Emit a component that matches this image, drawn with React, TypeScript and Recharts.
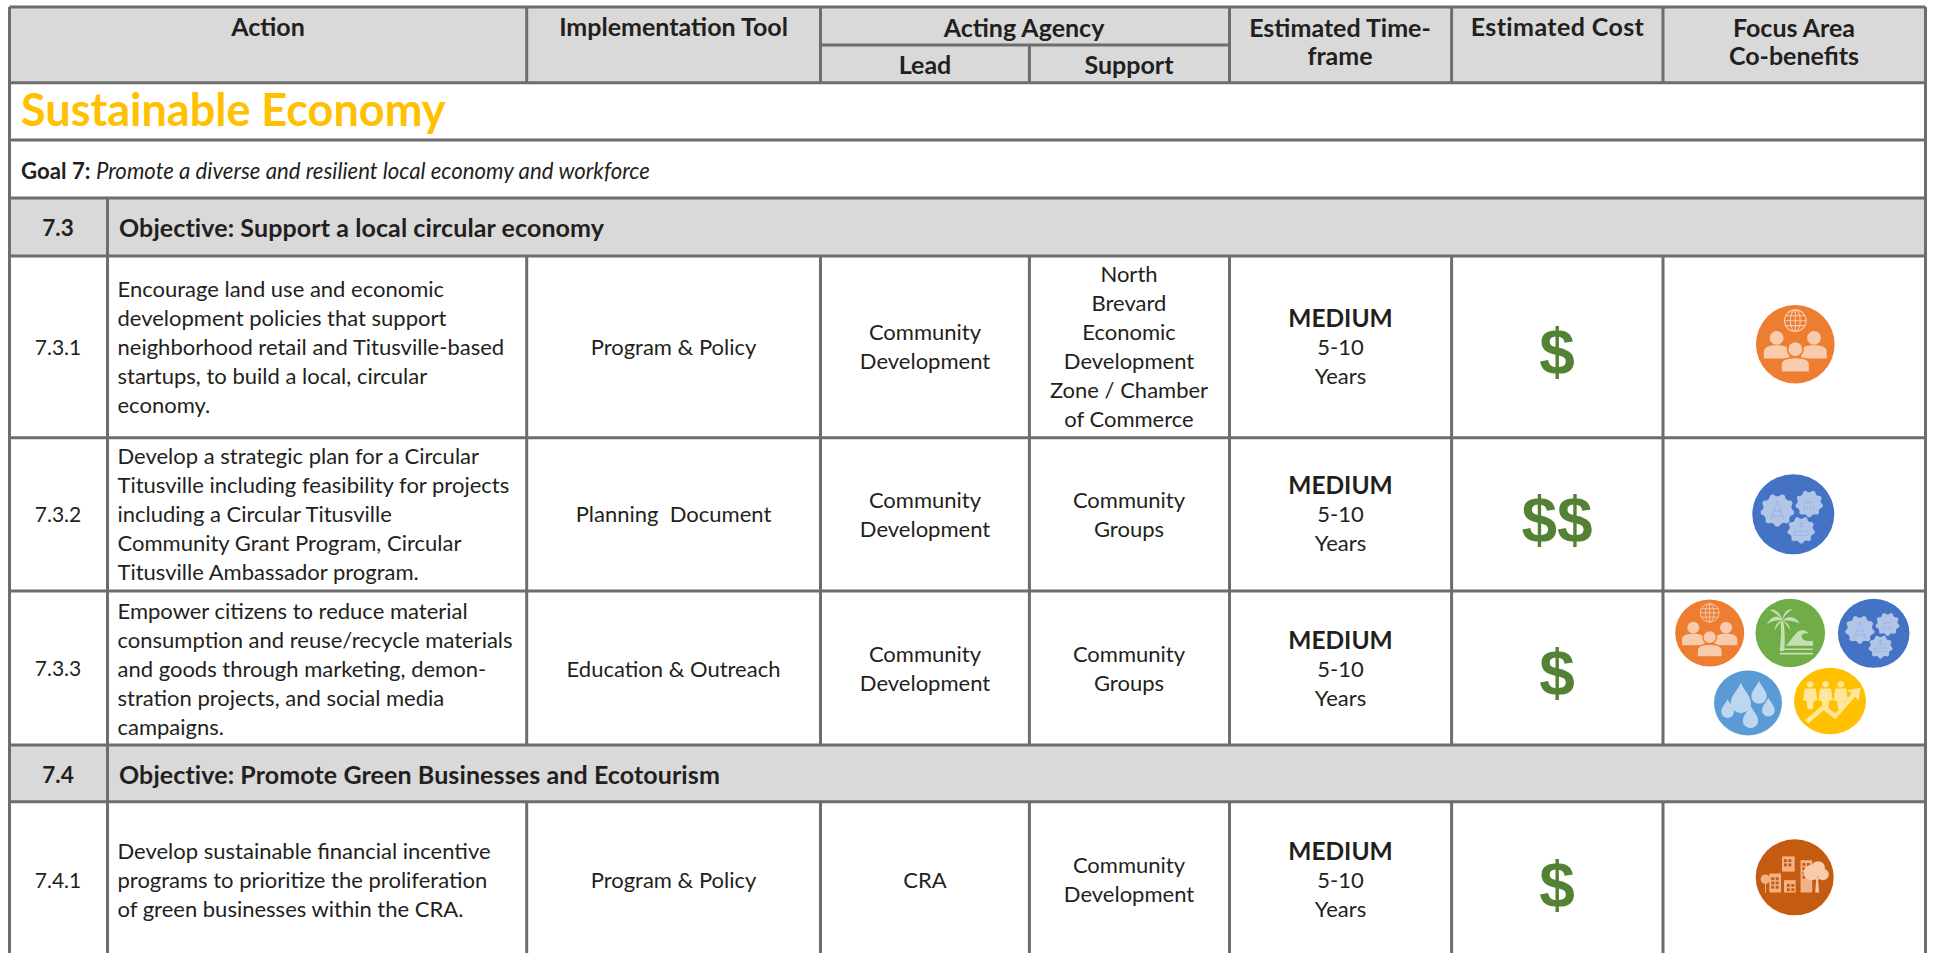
import React from "react";
import { ScatterChart, Scatter, XAxis, YAxis, ReferenceArea, ReferenceLine } from "recharts";

// ---------- data ----------
const headerTop = ["Action", "Implementation Tool", "Acting Agency", "Estimated Time-", "Estimated Cost", "Focus Area"];
const headerSub = ["Lead", "Support", "frame", "Co-benefits"];
const themeTitle = "Sustainable Economy";
const goalLabel = "Goal 7:";
const goalText = "Promote a diverse and resilient local economy and workforce";
const objectiveIds = ["7.3", "7.4"];
const objectiveTexts = ["Objective: Support a local circular economy", "Objective: Promote Green Businesses and Ecotourism"];
const actionIds = ["7.3.1", "7.3.2", "7.3.3", "7.4.1"];
const actionTexts = [
  ["Encourage land use and economic", "development policies that support", "neighborhood retail and Titusville-based", "startups, to build a local, circular", "economy."],
  ["Develop a strategic plan for a Circular", "Titusville including feasibility for projects", "including a Circular Titusville", "Community Grant Program, Circular", "Titusville Ambassador program."],
  ["Empower citizens to reduce material", "consumption and reuse/recycle materials", "and goods through marketing, demon-", "stration projects, and social media", "campaigns."],
  ["Develop sustainable financial incentive", "programs to prioritize the proliferation", "of green businesses within the CRA."],
];
const tools = ["Program & Policy", "Planning  Document", "Education & Outreach", "Program & Policy"];
const leads = [["Community", "Development"], ["Community", "Development"], ["Community", "Development"], ["CRA"]];
const supports = [
  ["North", "Brevard", "Economic", "Development", "Zone / Chamber", "of Commerce"],
  ["Community", "Groups"],
  ["Community", "Groups"],
  ["Community", "Development"],
];
const timeframes = [["5-10", "Years"], ["5-10", "Years"], ["5-10", "Years"], ["5-10", "Years"]];
const timeframeLevels = ["MEDIUM", "MEDIUM", "MEDIUM", "MEDIUM"];
const costs = ["$", "$$", "$", "$"];
const coBenefits = [["community"], ["infrastructure"], ["community", "coast", "infrastructure", "water", "growth"], ["built"]];

// ---------- layout (axis units) ----------
const W = 1933, H = 953;
const LEFT = 9.5, RIGHT = 1925.5, TOP = 7;
const colX = [107.5, 526.7, 820.5, 1029.4, 1229.5, 1451.6, 1663];
const rowTop = { headerMid: 45, header: 82.7, theme: 140, goal: 198, obj1: 256, r1: 437.7, r2: 591, r3: 745, obj2: 801.7 };
const rowCentre = [347.6, 515, 669.5, 880.6];
const LH = 29;
const colCentre = { tool: 673.5, lead: 925, support: 1129, time: 1340.5, cost: 1557, focus: 1794 };
const iconSlots = [
  [{ x: 1795.3, y: 344.3, rx: 39.3, ry: 39.3 }],
  [{ x: 1793.3, y: 514.3, rx: 41, ry: 40 }],
  [
    { x: 1709.7, y: 633, rx: 34.5, ry: 33.5 },
    { x: 1790.3, y: 633, rx: 34.8, ry: 34.2 },
    { x: 1873.7, y: 633.3, rx: 35.8, ry: 34.5 },
    { x: 1748, y: 703, rx: 34, ry: 32.5 },
    { x: 1830, y: 701, rx: 36, ry: 33.3 },
  ],
  [{ x: 1794.7, y: 877.3, rx: 39, ry: 38 }],
];

const FONT = "Lato, sans-serif";
const INK = "#231f20";
const GRID = "#6d6d6d";
const FILL = "#d9d9d9";

// ---------- derived marks ----------
const lines = (x: number, centre: number, ls: string[]) =>
  ls.map((text, i) => ({ x, y: centre + (i - (ls.length - 1) / 2) * LH, text }));

const idPts = actionIds.map((text, i) => ({ x: 58, y: rowCentre[i], text }));
const bodyPts = [
  ...tools.map((text, i) => ({ x: colCentre.tool, y: rowCentre[i], text })),
  ...leads.flatMap((l, i) => lines(colCentre.lead, rowCentre[i], l)),
  ...supports.flatMap((l, i) => lines(colCentre.support, rowCentre[i], l)),
  ...timeframes.flatMap((l, i) => l.map((text, j) => ({ x: colCentre.time, y: rowCentre[i] + j * LH, text }))),
];
const actionPts = actionTexts.flatMap((l, i) => lines(117.5, rowCentre[i], l));
const levelPts = timeframeLevels.map((text, i) => ({ x: colCentre.time, y: rowCentre[i] - LH, text }));
const headPts = [
  { x: 268, y: 27, text: headerTop[0] },
  { x: 673.5, y: 27, text: headerTop[1] },
  { x: 1024, y: 28, text: headerTop[2] },
  { x: 1340, y: 28, text: headerTop[3] },
  { x: 1794, y: 28, text: headerTop[5] },
  { x: 925, y: 65, text: headerSub[0] },
  { x: 1129, y: 65, text: headerSub[1] },
  { x: 1340, y: 56, text: headerSub[2] },
  { x: 1794, y: 56, text: headerSub[3] },
];
const costHeadPts = [{ x: 1557.5, y: 27, text: headerTop[4] }];
const objIdPts = objectiveIds.map((text, i) => ({ x: 58, y: [228, 775][i], text }));
const objTextPts = objectiveTexts.map((text, i) => ({ x: 119, y: [228, 775][i], text }));
const costPts = costs.map((text, i) => ({ x: colCentre.cost, y: [351, 519, 672, 883.5][i], text }));
const iconPts = coBenefits.flatMap((arr, i) => arr.map((icon, j) => ({ ...iconSlots[i][j], icon })));

// ---------- marks ----------
const textShape = (o: { size: number; weight?: number; anchor?: string; fill?: string; style?: string; family?: string; spacing?: number; dy?: string }) => (p: any) => (
  <text
    x={p.cx}
    y={p.cy}
    dy={o.dy || "0.36em"}
    fontFamily={o.family || FONT}
    fontSize={o.size}
    fontWeight={o.weight || 400}
    fontStyle={o.style || "normal"}
    textAnchor={o.anchor || "middle"}
    fill={o.fill || INK}
    letterSpacing={o.spacing || 0}
    xmlSpace="preserve"
  >
    {p.payload.text}
  </text>
);

const gearPath = (r: number) => {
  const n = 9;
  let d = "";
  for (let i = 0; i < n * 4; i++) {
    const rad = i % 4 < 2 ? r : r * 0.85;
    const a = ((i + 0.5) / (n * 4)) * Math.PI * 2;
    d += `${i ? "L" : "M"}${(Math.cos(a) * rad).toFixed(2)} ${(Math.sin(a) * rad).toFixed(2)}`;
  }
  return d + "Z";
};
const person = (x: number, y: number, s: number, fill: string, edge?: string) => (
  <g transform={`translate(${x} ${y}) scale(${s})`} fill={fill} stroke={edge || "none"} strokeWidth={edge ? 1.4 : 0}>
    <path d="M-13 21V14C-13 9 -7 7.5 0 7.5S13 9 13 14V21Z" />
    <circle cx={0} cy={0} r={7} />
  </g>
);
const drop = (x: number, y: number, s: number, fill: string) => (
  <path transform={`translate(${x} ${y}) scale(${s})`} fill={fill} d="M0 -14C3 -7 9 -2 9 5A9 9 0 0 1 -9 5C-9 -2 -3 -7 0 -14Z" />
);

const ICONS: Record<string, { bg: string; fg: string; draw: (fg: string, bg: string) => React.ReactNode }> = {
  community: {
    bg: "#ed7d31",
    fg: "#f8cbad",
    draw: (fg, bg) => (
      <>
        <g fill="none" stroke={fg} strokeWidth={1.1}>
          <circle cx={0} cy={-24} r={11} />
          <ellipse cx={0} cy={-24} rx={5} ry={11} />
          <path d="M0 -35V-13M-11 -24H11M-10 -29H10M-10 -19H10" />
        </g>
        {person(-19, -6.5, 1, fg)}
        {person(19, -6.5, 1, fg)}
        {person(0, 5, 1.12, fg, bg)}
      </>
    ),
  },
  infrastructure: {
    bg: "#4472c4",
    fg: "#b0c5e8",
    draw: (fg, bg) => (
      <>
        <path transform="translate(-15.5 -4.2)" d={gearPath(16.5)} fill={fg} />
        <path transform="translate(15.5 -10.5)" d={gearPath(13.5)} fill={fg} />
        <path transform="translate(7.7 15.8)" d={gearPath(13.5)} fill={fg} />
        <g fill="none" stroke={bg} strokeOpacity={0.3} strokeWidth={0.6}>
          <path d="M-15.5 -13L-22 6M-15.5 -13L-9 6M-19 -3H-12M-21 2H-10" />
          <path d="M11 -4V-12H19M14 -4V-9M17 -4V-9M20 -4V-9" />
          <path d="M1 21H14V17H1ZM7.7 7V14M5 9H10M5 12H10" />
        </g>
      </>
    ),
  },
  coast: {
    bg: "#70ad47",
    fg: "#c5e0b4",
    draw: (fg) => (
      <g fill={fg}>
        <path d="M-11 -13L-8 -14C-6 -2 -6 10 -7 21H-12C-11 8 -10 -2 -11 -13Z" />
        <path d="M-9 -15C-14 -22 -22 -20 -27 -10C-22 -14 -16 -15 -9 -15Z" />
        <path d="M-9 -15C-12 -26 -20 -29 -24 -27C-18 -25 -14 -21 -9 -15Z" />
        <path d="M-9 -15C-8 -25 -2 -29 3 -28C-2 -25 -6 -21 -9 -15Z" />
        <path d="M-9 -15C-2 -21 6 -20 11 -11C5 -14 -2 -15 -9 -15Z" />
        <path d="M-9 -15C-14 -14 -18 -8 -18 -3C-15 -8 -12 -12 -9 -15Z" />
        <path d="M-9 -15C-4 -13 0 -8 0 -3C-3 -8 -6 -12 -9 -15Z" />
        <path d="M-6 15C-1 12 3 3 8 -1C13 -5 19 -3 21 1C17 -1 12 1 13 5C14 9 19 10 26 9V15Z" />
        <path d="M-12 20H26V18H-12ZM-12 25H26V23H-12Z" />
      </g>
    ),
  },
  water: {
    bg: "#5b9bd5",
    fg: "#bdd7ee",
    draw: (fg) => (
      <>
        {drop(-8.5, -6, 1.32, fg)}
        {drop(13, -13, 1, fg)}
        {drop(-24, 7, 0.82, fg)}
        {drop(24, 5, 0.82, fg)}
        {drop(3, 17, 1, fg)}
      </>
    ),
  },
  growth: {
    bg: "#ffc000",
    fg: "#ffe699",
    draw: (fg) => (
      <g fill={fg}>
        {[-22, -5, 12].map((x) => (
          <g key={x}>
            <circle cx={x} cy={-20} r={3.8} />
            <path d={`M${x - 6} -15H${x + 6}L${x + 8} -1L${x + 4} 0L${x + 3} 10H${x - 3}L${x - 4} 0L${x - 8} -1Z`} />
          </g>
        ))}
        <path d="M-28 23L-7 4L6 15L24 -9L19 -13L34 -16L32 0L28 -5L6 22L-7 11L-24 27Z" />
      </g>
    ),
  },
  built: {
    bg: "#c55a11",
    fg: "#f4b183",
    draw: (fg, bg) => {
      const windows: [number, number][] = [];
      for (const [x0, y0, cols, rows] of [[-24, 0, 2, 3], [-11, -19, 2, 2], [-8, 7, 2, 2], [8, -15, 2, 4]] as number[][]) {
        for (let c = 0; c < cols; c++) for (let r = 0; r < rows; r++) windows.push([x0 + c * 4.5, y0 + r * 4.5]);
      }
      return (
        <>
          <g fill={fg}>
            <rect x={-26} y={-4} width={12} height={20} />
            <rect x={-13} y={-22} width={13} height={16} />
            <rect x={-11} y={3} width={12} height={13} />
            <rect x={6} y={-18} width={12} height={34} />
            <circle cx={-30} cy={2} r={5} />
            <rect x={-30.5} y={2} width={1} height={14} />
          </g>
          <g fill={bg}>
            {windows.map(([x, y], i) => (
              <rect key={i} x={x} y={y} width={3} height={3} />
            ))}
          </g>
          <g fill="#f8cbad">
            <circle cx={17} cy={-5} r={8} />
            <circle cx={24} cy={-10} r={7} />
            <circle cx={29} cy={-3} r={6} />
            <path d="M21 16L22 3L18 -1L19 -2L23 1L27 -3L28 -2L24 3L25 16Z" />
          </g>
        </>
      );
    },
  },
};

const iconShape = (p: any) => {
  const { rx, ry, icon } = p.payload;
  const def = ICONS[icon];
  return (
    <g transform={`translate(${p.cx} ${p.cy}) scale(${rx / 40} ${ry / 40})`}>
      <circle r={40} fill={def.bg} />
      {def.draw(def.fg, def.bg)}
    </g>
  );
};

const goalShape = (p: any) => (
  <text x={p.cx} y={p.cy} dy="0.36em" fontFamily={FONT} fontSize={22.2} fill={INK}>
    <tspan fontWeight={700}>{goalLabel} </tspan>
    <tspan fontStyle="italic">{goalText}</tspan>
  </text>
);

const hLine = (y: number, x1 = LEFT, x2 = RIGHT) => (
  <ReferenceLine key={`h${y}-${x1}`} segment={[{ x: x1, y }, { x: x2, y }]} stroke={GRID} strokeWidth={3} />
);
const vLine = (x: number, y1: number, y2: number) => (
  <ReferenceLine key={`v${x}-${y1}`} segment={[{ x, y: y1 }, { x, y: y2 }]} stroke={GRID} strokeWidth={3} />
);

export default function App() {
  return (
    <div style={{ position: "absolute", left: 0, top: 0, background: "#fff" }}>
      <ScatterChart width={W} height={H} margin={{ top: 0, right: 0, bottom: 0, left: 0 }}>
        <XAxis type="number" dataKey="x" domain={[0, W]} hide />
        <YAxis type="number" dataKey="y" domain={[0, H]} reversed hide />

        <ReferenceArea x1={LEFT} x2={RIGHT} y1={TOP} y2={rowTop.header} fill={FILL} fillOpacity={1} stroke="none" />
        <ReferenceArea x1={LEFT} x2={RIGHT} y1={rowTop.goal} y2={rowTop.obj1} fill={FILL} fillOpacity={1} stroke="none" />
        <ReferenceArea x1={LEFT} x2={RIGHT} y1={rowTop.r3} y2={rowTop.obj2} fill={FILL} fillOpacity={1} stroke="none" />

        {[TOP, rowTop.header, rowTop.theme, rowTop.goal, rowTop.obj1, rowTop.r1, rowTop.r2, rowTop.r3, rowTop.obj2].map((y) => hLine(y))}
        {hLine(rowTop.headerMid, colX[2], colX[4])}
        {vLine(LEFT, TOP, H)}
        {vLine(RIGHT, TOP, H)}
        {[colX[1], colX[2], colX[4], colX[5], colX[6]].map((x) => vLine(x, TOP, rowTop.header))}
        {vLine(colX[3], rowTop.headerMid, rowTop.header)}
        {vLine(colX[0], rowTop.goal, rowTop.obj1)}
        {vLine(colX[0], rowTop.r3, rowTop.obj2)}
        {colX.map((x) => vLine(x, rowTop.obj1, rowTop.r3))}
        {colX.map((x) => vLine(x, rowTop.obj2, H))}

        <Scatter isAnimationActive={false} data={headPts} shape={textShape({ size: 25, weight: 700 })} />
        <Scatter isAnimationActive={false} data={costHeadPts} shape={textShape({ size: 25, weight: 700, spacing: 0.4 })} />
        <Scatter isAnimationActive={false} data={[{ x: 21, y: 110, text: themeTitle }]} shape={textShape({ size: 45, weight: 700, anchor: "start", fill: "#ffc000" })} />
        <Scatter isAnimationActive={false} data={[{ x: 21, y: 171 }]} shape={goalShape} />
        <Scatter isAnimationActive={false} data={objIdPts} shape={textShape({ size: 22.5, weight: 700 })} />
        <Scatter isAnimationActive={false} data={objTextPts} shape={textShape({ size: 25, weight: 700, anchor: "start", spacing: 0.1, dy: "0.34em" })} />
        <Scatter isAnimationActive={false} data={idPts} shape={textShape({ size: 21, dy: "0.33em" })} />
        <Scatter isAnimationActive={false} data={actionPts} shape={textShape({ size: 22, anchor: "start", dy: "0.32em" })} />
        <Scatter isAnimationActive={false} data={bodyPts} shape={textShape({ size: 22, dy: "0.32em" })} />
        <Scatter isAnimationActive={false} data={levelPts} shape={textShape({ size: 24.5, weight: 700, dy: "0.33em" })} />
        <Scatter isAnimationActive={false} data={costPts} shape={textShape({ size: 64, weight: 700, fill: "#548235", family: "Liberation Sans, sans-serif" })} />
        <Scatter isAnimationActive={false} data={iconPts} shape={iconShape} />
      </ScatterChart>
    </div>
  );
}
